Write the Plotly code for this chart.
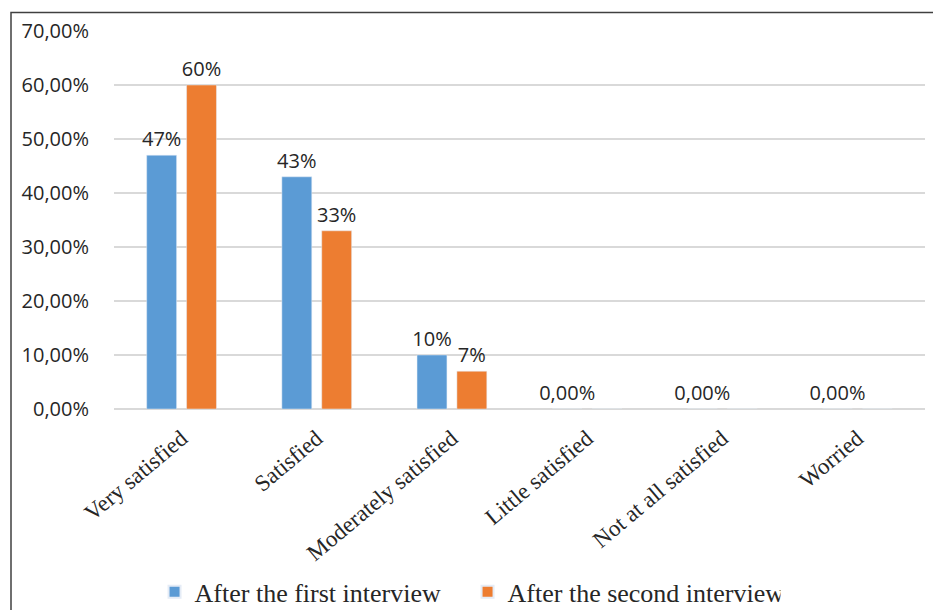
import plotly.graph_objects as go

# Satisfaction levels and shares for the two interview rounds
categories = ["Very satisfied", "Satisfied", "Moderately satisfied",
              "Little satisfied", "Not at all satisfied", "Worried"]
first_interview = [0.47, 0.43, 0.10, 0.0, 0.0, 0.0]
second_interview = [0.60, 0.33, 0.07, 0.0, 0.0, 0.0]
y_ticks = [0.0, 0.1, 0.2, 0.3, 0.4, 0.5, 0.6, 0.7]
y_tick_labels = ["0,00%", "10,00%", "20,00%", "30,00%", "40,00%", "50,00%", "60,00%", "70,00%"]

BLUE = "#5B9BD5"
ORANGE = "#ED7D31"
SANS = "Open Sans"
SERIF = "Liberation Serif"
INK = "#262626"


def bar_label(v, show_zero):
    if v == 0:
        return "0,00%" if show_zero else ""
    return f"{round(v * 100):d}%"


fig = go.Figure()
fig.add_trace(go.Bar(
    x=categories, y=first_interview, name="After the first interview",
    marker=dict(color=BLUE),
    text=[bar_label(v, True) for v in first_interview],
    textposition="outside", cliponaxis=False, constraintext="none",
    textfont=dict(family=SANS, size=20, color=INK),
))
fig.add_trace(go.Bar(
    x=categories, y=second_interview, name="After the second interview",
    marker=dict(color=ORANGE),
    text=[bar_label(v, False) for v in second_interview],
    textposition="outside", cliponaxis=False, constraintext="none",
    textfont=dict(family=SANS, size=20, color=INK),
))

fig.update_layout(
    width=933, height=610,
    margin=dict(l=114, r=8, t=31, b=201, autoexpand=False),
    paper_bgcolor="white", plot_bgcolor="white",
    barmode="group", bargap=0.41, bargroupgap=0.25,
    showlegend=True,
    legend=dict(
        orientation="h", x=0.05, xanchor="left", y=-0.484, yanchor="middle",
        font=dict(family=SERIF, size=26, color=INK),
        bgcolor="rgba(0,0,0,0)",
        entrywidth=268, entrywidthmode="pixels",
        itemsizing="constant", traceorder="normal",
    ),
    uniformtext=dict(mode=False),
)

fig.update_xaxes(
    tickangle=-40, automargin=False,
    tickfont=dict(family=SERIF, size=23, color=INK),
    ticks="outside", ticklen=6, tickcolor="rgba(0,0,0,0)",
    showline=False, showgrid=False,
)
fig.update_yaxes(
    range=[0, 0.7], automargin=False,
    tickvals=y_ticks, ticktext=y_tick_labels,
    tickfont=dict(family=SANS, size=20, color=INK),
    ticks="outside", ticklen=20, tickcolor="rgba(0,0,0,0)",
    showgrid=True, gridcolor="#D9D9D9", gridwidth=1.5,
    zeroline=True, zerolinecolor="#D9D9D9", zerolinewidth=1.5,
    showline=False,
)

# Frame around the chart (only its top and left edges fall inside the page)
plot_w = 933 - 114 - 8
plot_h = 610 - 31 - 201
left = (11 - 114) / plot_w
top = 1 + (31 - 12.5) / plot_h
bottom = -(201 + 10) / plot_h
right = 1 + (8 + 10) / plot_w
fig.add_shape(type="rect", xref="paper", yref="paper",
              x0=left, x1=right, y0=bottom, y1=top,
              line=dict(color="#404040", width=1.5), layer="below")

fig.write_html("out.html")
